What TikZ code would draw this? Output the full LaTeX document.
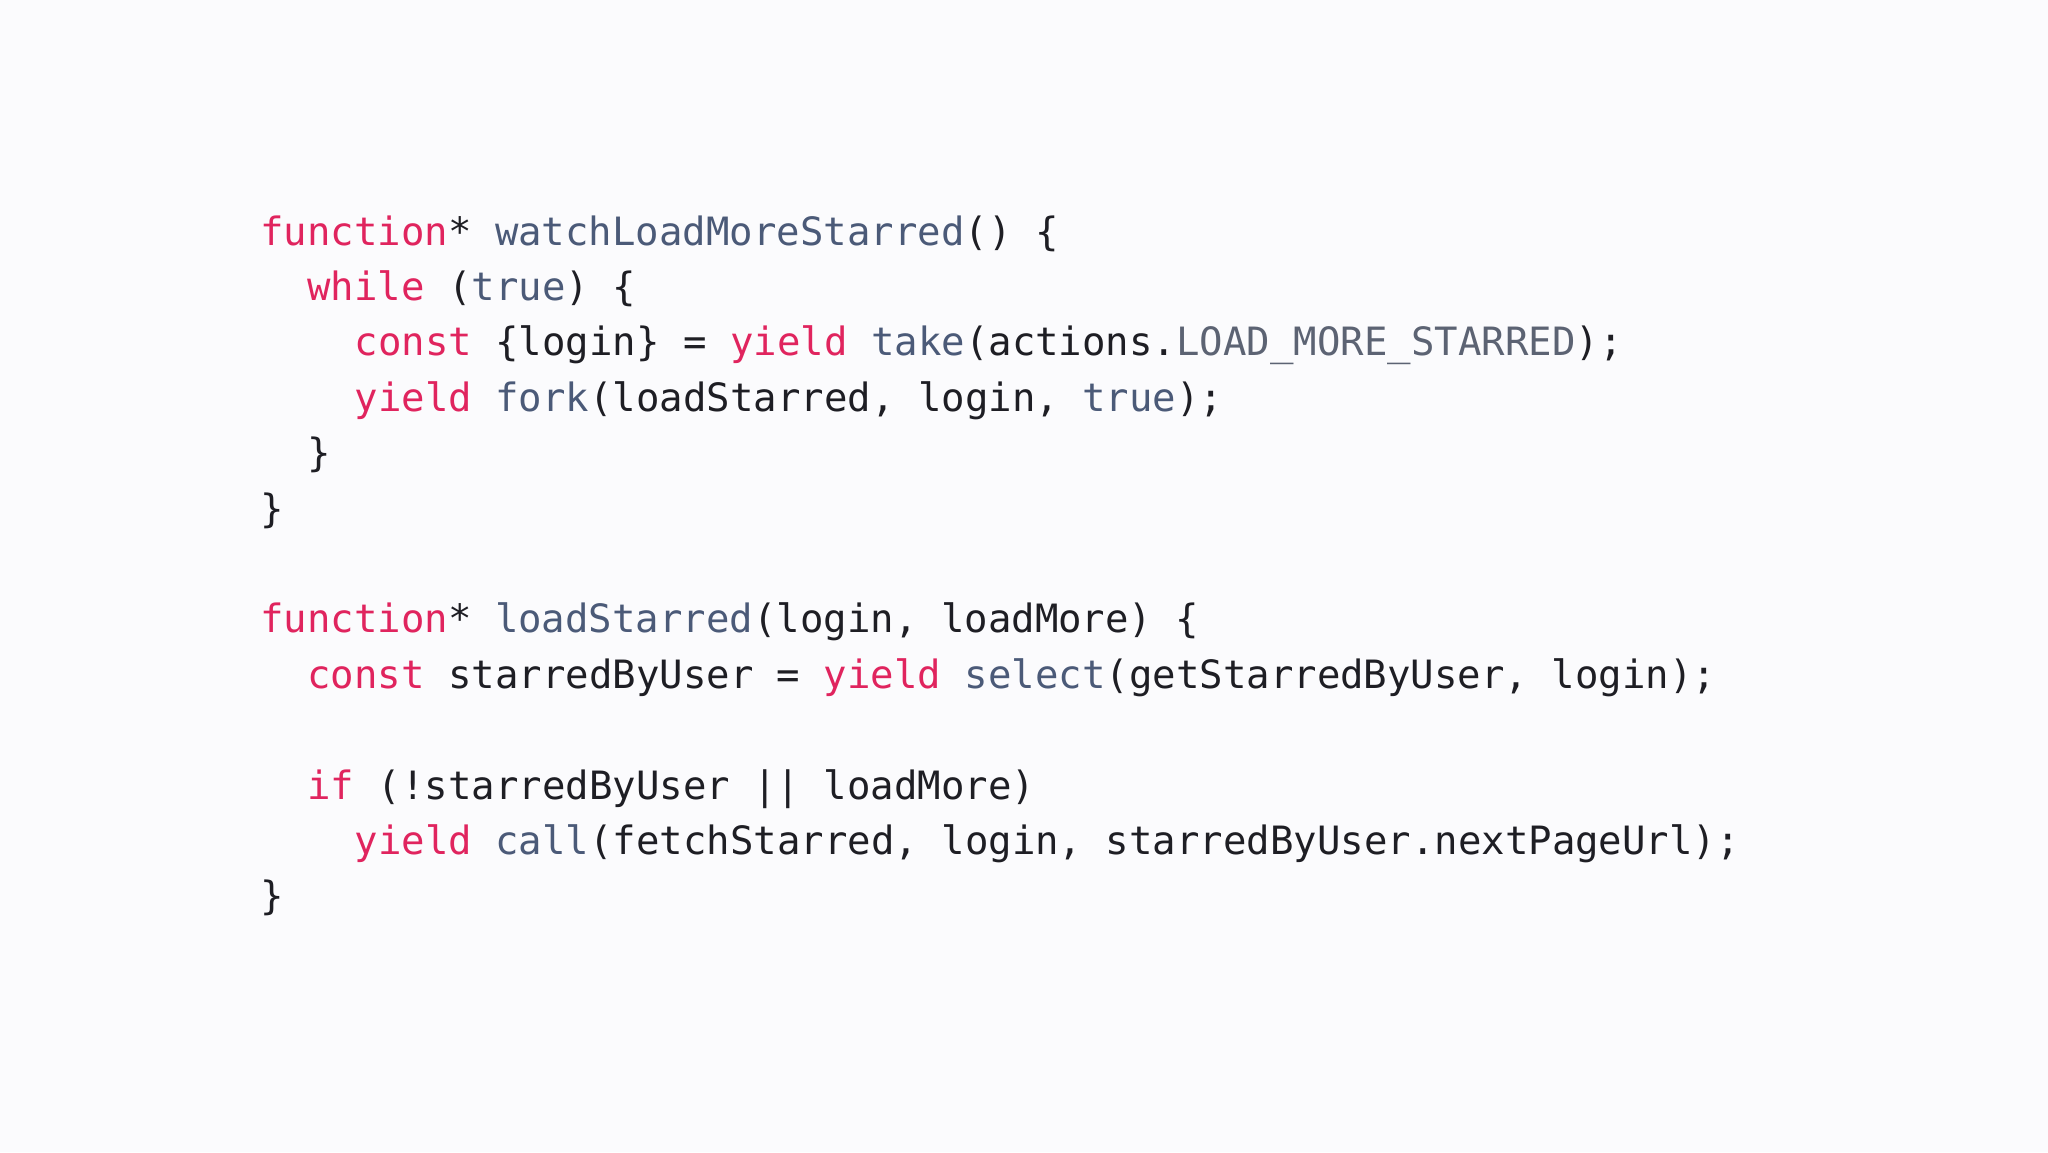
\documentclass[tikz,border=0pt]{standalone}
\usepackage{fontspec}
\newfontfamily\codefont{DejaVu Sans Mono}
\definecolor{bg}{HTML}{FBFBFD}
\definecolor{kw}{HTML}{E0245E}
\definecolor{fn}{HTML}{4B5A78}
\definecolor{tx}{HTML}{1E1E24}
\definecolor{cn}{HTML}{5C6373}
\newcommand{\kw}[1]{\textcolor{kw}{#1}}
\newcommand{\fn}[1]{\textcolor{fn}{#1}}
\newcommand{\cn}[1]{\textcolor{cn}{#1}}
\begin{document}
\begin{tikzpicture}[x=1pt,y=1pt,
  codeline/.style={anchor=base west,inner sep=0pt,font=\codefont\fontsize{39}{44}\selectfont,text=tx}]
\fill[bg] (0,0) rectangle (2048,-1152);
\useasboundingbox (0,0) rectangle (2048,-1152);
\def\cw{23.6}
\def\lh{55.4}
\newcommand{\codeln}[4]{\node[codeline] (#1) at ({260+#2*\cw},{-245-#3*\lh}) {#4};}
\codeln{l0}{0}{0}{\kw{function}* \fn{watchLoadMoreStarred}() \{}
\codeln{l1}{2}{1}{\kw{while} (\fn{true}) \{}
\codeln{l2}{4}{2}{\kw{const} \{login\} = \kw{yield} \fn{take}(actions.\cn{LOAD\_MORE\_STARRED});}
\codeln{l3}{4}{3}{\kw{yield} \fn{fork}(loadStarred, login, \fn{true});}
\codeln{l4}{2}{4}{\}}
\codeln{l5}{0}{5}{\}}
\codeln{l7}{0}{7}{\kw{function}* \fn{loadStarred}(login, loadMore) \{}
\codeln{l8}{2}{8}{\kw{const} starredByUser = \kw{yield} \fn{select}(getStarredByUser, login);}
\codeln{l10}{2}{10}{\kw{if} (!starredByUser || loadMore)}
\codeln{l11}{4}{11}{\kw{yield} \fn{call}(fetchStarred, login, starredByUser.nextPageUrl);}
\codeln{l12}{0}{12}{\}}
\end{tikzpicture}
\end{document}
